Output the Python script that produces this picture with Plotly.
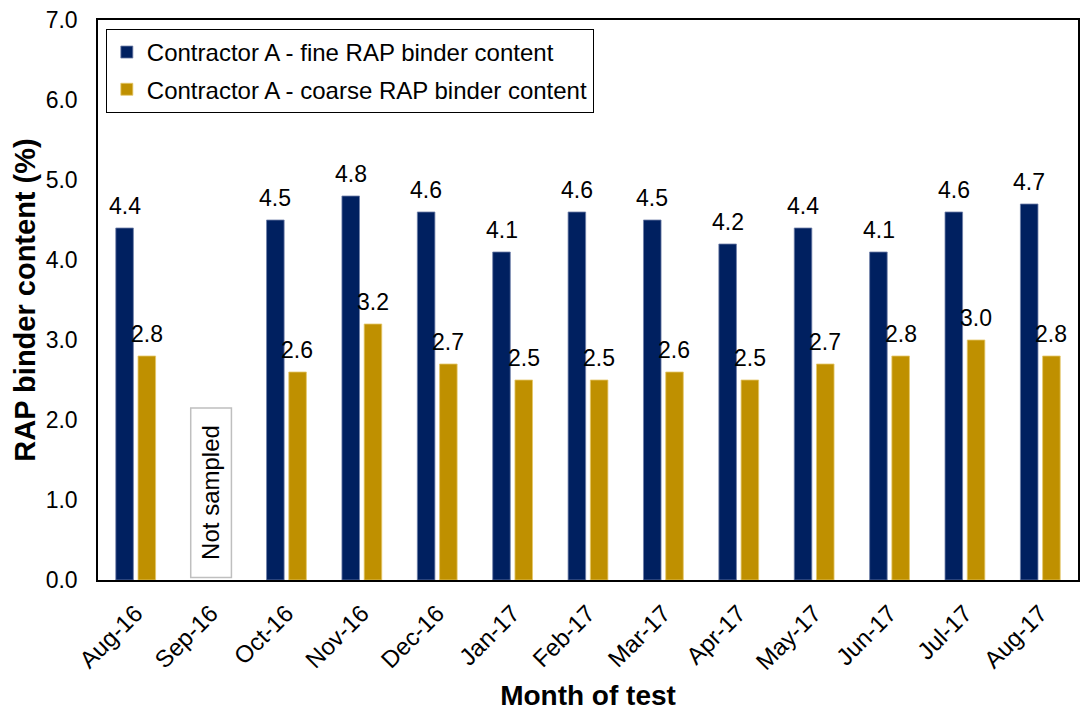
import plotly.graph_objects as go

# Monthly RAP binder content results
months = ["Aug-16", "Sep-16", "Oct-16", "Nov-16", "Dec-16", "Jan-17", "Feb-17",
          "Mar-17", "Apr-17", "May-17", "Jun-17", "Jul-17", "Aug-17"]
fine_binder = [4.4, None, 4.5, 4.8, 4.6, 4.1, 4.6, 4.5, 4.2, 4.4, 4.1, 4.6, 4.7]
coarse_binder = [2.8, None, 2.6, 3.2, 2.7, 2.5, 2.5, 2.6, 2.5, 2.7, 2.8, 3.0, 2.8]

FONT = "Liberation Sans, Arial, sans-serif"
NAVY = "#002060"
GOLD = "#BF9000"
FS = 23

fig = go.Figure()
fig.add_trace(go.Bar(
    x=months, y=fine_binder, name="Contractor A - fine RAP binder content",
    marker=dict(color=NAVY, line=dict(color="#6f7fa8", width=0.8)),
    legendgroup="fine",
))
fig.add_trace(go.Bar(
    x=months, y=coarse_binder, name="Contractor A - coarse RAP binder content",
    marker=dict(color=GOLD, line=dict(color="#e6c86a", width=0.8)),
    legendgroup="coarse",
))

# Value labels above each bar, shifted onto the matching bar of the group
annotations = []
for series, shift in ((fine_binder, -11), (coarse_binder, 11)):
    for m, v in zip(months, series):
        if v is None:
            continue
        annotations.append(dict(
            x=m, y=v, text=f"{v:.1f}", showarrow=False,
            xanchor="center", yanchor="bottom", xshift=shift, yshift=7,
            font=dict(family=FONT, size=FS, color="black"),
        ))

# Note for the month without samples
annotations.append(dict(
    x="Sep-16", y=1.09, text="Not sampled", textangle=-90, showarrow=False,
    font=dict(family=FONT, size=24, color="black"),
))
fig.add_shape(type="rect", xref="x", yref="y", x0=0.73, x1=1.27, y0=0.03, y1=2.15,
              line=dict(color="#bfbfbf", width=1.5), fillcolor="white", layer="below")

fig.update_layout(
    width=1086, height=711,
    margin=dict(l=98, r=8, t=20, b=131),
    paper_bgcolor="white", plot_bgcolor="white",
    barmode="group", bargap=0.41, bargroupgap=0.21,
    font=dict(family=FONT, size=FS, color="black"),
    showlegend=True,
    legend=dict(
        x=0.008, y=0.984, xanchor="left", yanchor="top",
        bgcolor="white", bordercolor="black", borderwidth=1,
        font=dict(family=FONT, size=24, color="black"),
        tracegroupgap=3, itemwidth=30,
    ),
    annotations=annotations,
)
fig.update_xaxes(
    type="category", tickangle=-45, tickfont=dict(family=FONT, size=24),
    showline=True, linecolor="black", linewidth=1.5, mirror=True,
    showgrid=False, ticks="", ticklabelstandoff=8, automargin=False,
    title=dict(text="<b>Month of test</b>", font=dict(family=FONT, size=28), standoff=14),
)
fig.update_yaxes(
    range=[0, 7], dtick=1, tickformat=".1f", tickfont=dict(family=FONT, size=FS),
    showline=True, linecolor="black", linewidth=1.5, mirror=True, automargin=False,
    showgrid=False, zeroline=False, ticks="", ticklabelstandoff=14,
    title=dict(text="<b>RAP binder content (%)</b>", font=dict(family=FONT, size=29), standoff=2),
)

fig.write_html("out.html")
